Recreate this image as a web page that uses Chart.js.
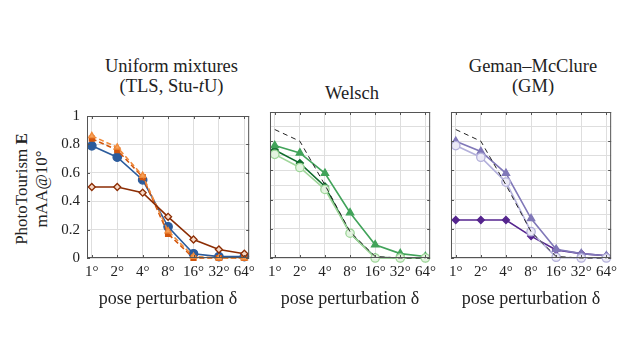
<!DOCTYPE html>
<html>
<head>
<meta charset="utf-8">
<script src="https://cdn.jsdelivr.net/npm/chart.js@4"></script>
<style>
  body { margin: 0; width: 640px; height: 360px; background: #fff; position: relative; overflow: hidden; font-family: "Liberation Serif", serif; color: #222; }
  canvas { position: absolute; }
  .ttl { position: absolute; text-align: center; font-size: 18.5px; line-height: 20px; white-space: nowrap; }
  .ylab { position: absolute; left: 32px; top: 189px; transform: translate(-50%, -50%) rotate(-90deg); text-align: center; font-size: 17px; line-height: 20px; white-space: nowrap; }
</style>
</head>
<body>
<div class="ttl" style="left:87px;width:169px;top:56px;">Uniform mixtures<br>(TLS, Stu-<i>t</i>U)</div>
<div class="ttl" style="left:267px;width:170px;top:83px;">Welsch</div>
<div class="ttl" style="left:448px;width:170px;top:56px;">Geman–McClure<br>(GM)</div>
<div class="ylab">PhotoTourism <b>E</b><br>mAA@10°</div>
<canvas id="c1" width="220" height="215" style="left:40px;top:100px;"></canvas>
<canvas id="c2" width="178" height="215" style="left:263px;top:100px;"></canvas>
<canvas id="c3" width="178" height="215" style="left:444px;top:100px;"></canvas>
<script>
const xLabels = ["1°", "2°", "4°", "8°", "16°", "32°", "64°"];
const xLabel = "pose perturbation δ";

// panel 1: uniform mixtures
const tlsDark = [0.84, 0.76, 0.57, 0.17, 0.00, 0.00, 0.00];
const tlsLight = [0.86, 0.78, 0.58, 0.19, 0.01, 0.00, 0.00];
const stuTU = [0.79, 0.71, 0.55, 0.22, 0.03, 0.01, 0.01];
const uniRed = [0.50, 0.50, 0.46, 0.29, 0.13, 0.06, 0.03];

// reference dashed curve (panels 2 and 3)
const baseline = [0.88, 0.80, 0.50, 0.18, 0.01, 0.00, 0.00];

// panel 2: Welsch
const welschMid = [0.77, 0.72, 0.58, 0.31, 0.09, 0.03, 0.01];
const welschDark = [0.74, 0.65, 0.49, 0.17, 0.005, 0.00, 0.00];
const welschLight = [0.71, 0.62, 0.47, 0.17, 0.00, 0.00, 0.00];

// panel 3: Geman-McClure
const gmMid = [0.80, 0.73, 0.58, 0.27, 0.06, 0.03, 0.015];
const gmLight = [0.77, 0.69, 0.52, 0.18, 0.005, 0.00, 0.00];
const gmDark = [0.26, 0.26, 0.26, 0.15, 0.055, 0.03, 0.015];

const toPts = (arr) => arr.map((v, i) => ({ x: i, y: v }));

const series = (data, color, style, fill, extra) => Object.assign({
  data: toPts(data),
  borderColor: color,
  backgroundColor: fill,
  pointBorderColor: color,
  pointBackgroundColor: fill,
  pointStyle: style,
  pointRadius: 3.5,
  pointBorderWidth: 1.3,
  borderWidth: 1.6,
  clip: false,
}, extra || {});

const dashed = () => series(baseline, "#222", false, "#222", { borderDash: [5, 4], borderWidth: 1, pointRadius: 0, order: -1 });

// frame and small inward ticks, pgfplots style
const framePlugin = {
  id: "frame",
  afterDraw(chart) {
    const { ctx, chartArea: a, scales } = chart;
    ctx.save();
    ctx.strokeStyle = "#555";
    ctx.lineWidth = 1;
    ctx.strokeRect(a.left + 0.5, a.top + 0.5, a.right - a.left - 1, a.bottom - a.top - 1);
    ctx.beginPath();
    xLabels.forEach((_, i) => {
      const x = Math.round(scales.x.getPixelForValue(i)) + 0.5;
      ctx.moveTo(x, a.bottom); ctx.lineTo(x, a.bottom - 3);
      ctx.moveTo(x, a.top); ctx.lineTo(x, a.top + 3);
    });
    for (let v = 0; v <= 1.001; v += 0.2) {
      const y = Math.round(scales.y.getPixelForValue(v)) + 0.5;
      ctx.moveTo(a.left, y); ctx.lineTo(a.left + 3, y);
      ctx.moveTo(a.right, y); ctx.lineTo(a.right - 3, y);
    }
    ctx.stroke();
    ctx.restore();
  }
};

function makeChart(id, datasets, showY) {
  return new Chart(document.getElementById(id), {
    type: "line",
    data: { datasets },
    plugins: [framePlugin],
    options: {
      responsive: false,
      animation: false,
      events: [],
      layout: { padding: { top: 12, right: 4, left: 0, bottom: 0 } },
      plugins: { legend: { display: false }, tooltip: { enabled: false } },
      scales: {
        x: {
          type: "linear",
          min: -0.19,
          max: 6.19,
          afterBuildTicks: (s) => { s.ticks = xLabels.map((_, i) => ({ value: i })); },
          afterFit: (s) => { s.height = 57; },
          grid: { color: "#dedede", drawTicks: false },
          border: { display: false },
          ticks: {
            padding: 5,
            color: "#222",
            font: { family: "Liberation Serif", size: 15 },
            maxRotation: 0,
            autoSkip: false,
            callback: (v) => xLabels[v],
          },
          title: {
            display: true,
            text: xLabel,
            color: "#222",
            font: { family: "Liberation Serif", size: 18 },
            padding: { top: 4, bottom: 5 },
          },
        },
        y: {
          min: 0,
          max: 1,
          afterFit: (s) => { s.width = showY ? 47 : 4; },
          grid: { color: "#dedede", drawTicks: false },
          border: { display: false },
          ticks: {
            display: showY,
            stepSize: 0.1,
            padding: 7,
            color: "#222",
            font: { family: "Liberation Serif", size: 15 },
            callback: (v) => {
              const r = Math.round(v * 10);
              if (r % 2 !== 0) return "";
              return r === 0 ? "0" : r === 10 ? "1" : (r / 10).toFixed(1);
            },
          },
        },
      },
    },
  });
}

makeChart("c1", [
  series(uniRed, "#8c2d04", "rectRot", "#f6d7c4"),
  series(tlsLight, "#f08a3a", "triangle", "#f5a05a", { borderDash: [5, 3] }),
  series(tlsDark, "#d2550c", "rect", "#d2550c", { borderDash: [5, 3] }),
  series(stuTU, "#2b5b9c", "circle", "#2b5b9c", { pointRadius: 4.2 }),
], true);

makeChart("c2", [
  series(welschLight, "#9fd69a", "circle", "#e4f4e1", { pointRadius: 4.2 }),
  series(welschMid, "#41a35a", "triangle", "#41a35a", { pointRadius: 4.2 }),
  series(welschDark, "#0f6b2c", "rectRot", "#0f6b2c"),
  dashed(),
], false);

makeChart("c3", [
  series(gmLight, "#b3b0da", "circle", "#eceaf6", { pointRadius: 4.2 }),
  series(gmMid, "#8078b8", "triangle", "#8078b8", { pointRadius: 4.2 }),
  series(gmDark, "#55258e", "rectRot", "#55258e"),
  dashed(),
], false);
</script>
</body>
</html>
